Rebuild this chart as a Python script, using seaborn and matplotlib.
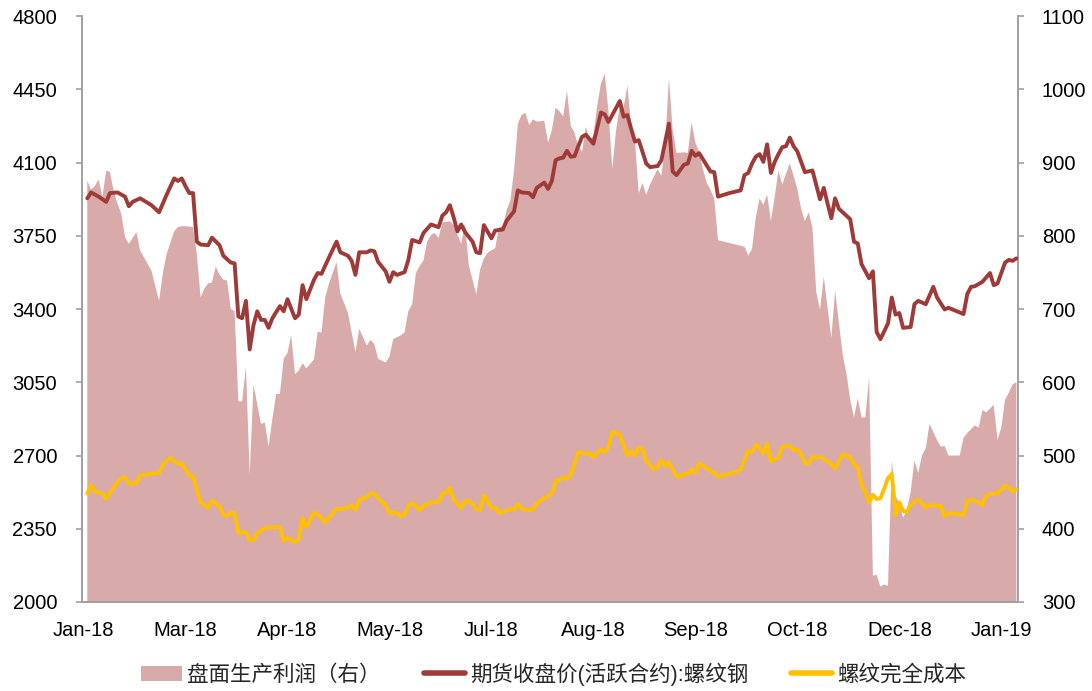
import matplotlib
matplotlib.use("Agg")
import matplotlib.pyplot as plt
import seaborn as sns
from matplotlib.patches import Patch
from matplotlib.lines import Line2D

# x is the trading-day index, 0 = first trading day shown on the axis
tick_days = [0, 27, 54, 81, 108, 135, 162, 189, 216, 243]
tick_labels = ["Jan-18", "Mar-18", "Apr-18", "May-18", "Jul-18",
               "Aug-18", "Sep-18", "Oct-18", "Dec-18", "Jan-19"]

# 期货收盘价(活跃合约):螺纹钢  (left axis)
steel_day = [1, 2, 4, 6, 7, 9, 11, 12, 13, 15, 18, 20, 22, 24, 25, 26, 27, 28, 29, 30,
             31, 33, 34, 36, 37, 38, 39, 40, 41, 42, 43, 44, 45, 46, 47, 48, 49, 50, 52, 53,
             54, 56, 57, 58, 59, 61, 62, 63, 65, 67, 68, 70, 71, 72, 73, 75, 76, 77, 78, 80,
             81, 82, 83, 85, 86, 87, 89, 90, 92, 94, 95, 96, 97, 98, 99, 100, 101, 103, 104, 105,
             106, 108, 109, 111, 112, 114, 115, 116, 118, 119, 120, 122, 123, 124, 125, 126, 127, 128, 129, 130,
             131, 132, 133, 135, 137, 138, 139, 142, 143, 144, 145, 146, 147, 149, 150, 152, 153, 155, 156, 157,
             159, 160, 161, 162, 163, 165, 166, 167, 168, 171, 174, 175, 176, 177, 178, 179, 180, 181, 182, 183,
             184, 185, 186, 187, 188, 189, 191, 193, 195, 196, 197, 198, 199, 200, 203, 204, 205, 206, 208, 209,
             210, 211, 213, 214, 215, 216, 217, 219, 220, 221, 223, 225, 226, 228, 229, 233, 234, 235, 236, 238,
             240, 241, 242, 244, 245, 246, 247]
steel_price = [3929, 3957, 3937, 3912, 3954, 3957, 3937, 3891, 3912, 3929, 3896, 3862, 3946, 4024, 4012, 4024, 3987, 3954, 3954, 3722,
               3708, 3705, 3741, 3705, 3655, 3638, 3622, 3618, 3364, 3356, 3439, 3207, 3323, 3389, 3348, 3348, 3310, 3356, 3414, 3389,
               3447, 3356, 3373, 3514, 3447, 3539, 3572, 3568, 3647, 3722, 3671, 3655, 3630, 3563, 3671, 3671, 3680, 3676, 3625, 3580,
               3530, 3576, 3563, 3576, 3635, 3730, 3718, 3763, 3804, 3791, 3846, 3862, 3896, 3838, 3771, 3804, 3768, 3722, 3671, 3667,
               3801, 3738, 3775, 3780, 3821, 3867, 3967, 3957, 3954, 3934, 3979, 4004, 3974, 4012, 4111, 4120, 4123, 4156, 4128, 4130,
               4178, 4223, 4233, 4190, 4339, 4330, 4294, 4394, 4319, 4327, 4261, 4200, 4207, 4095, 4078, 4083, 4111, 4286, 4057, 4040,
               4090, 4095, 4156, 4132, 4145, 4087, 4057, 4054, 3937, 3954, 3967, 4040, 4050, 4095, 4128, 4140, 4103, 4187, 4050, 4103,
               4140, 4173, 4178, 4219, 4178, 4153, 4054, 4062, 3924, 3979, 3904, 3834, 3929, 3879, 3829, 3722, 3713, 3614, 3547, 3580,
               3290, 3256, 3331, 3455, 3373, 3381, 3310, 3314, 3423, 3439, 3423, 3506, 3455, 3398, 3406, 3376, 3472, 3506, 3509, 3530,
               3572, 3514, 3522, 3622, 3635, 3630, 3642]

# 螺纹完全成本  (left axis)
cost_day = [1, 2, 3, 5, 6, 8, 10, 11, 12, 14, 15, 20, 21, 23, 25, 26, 28, 29, 31, 33,
            34, 36, 37, 38, 39, 40, 41, 43, 44, 45, 46, 48, 49, 52, 53, 54, 56, 57, 58, 59,
            61, 62, 64, 67, 69, 71, 72, 73, 75, 76, 77, 78, 80, 81, 83, 84, 85, 86, 87, 88,
            89, 90, 92, 94, 95, 96, 97, 98, 100, 101, 103, 104, 105, 106, 108, 109, 110, 113, 114, 115,
            116, 118, 119, 120, 122, 124, 125, 126, 127, 128, 129, 130, 131, 133, 134, 135, 136, 137, 138, 139,
            140, 141, 142, 143, 144, 145, 146, 147, 148, 149, 150, 151, 152, 153, 154, 155, 157, 158, 159, 160,
            161, 162, 163, 165, 167, 168, 171, 174, 176, 177, 178, 179, 180, 181, 182, 183, 184, 185, 187, 188,
            189, 190, 191, 192, 193, 195, 196, 198, 199, 201, 203, 204, 205, 206, 207, 208, 209, 210, 211, 212,
            213, 214, 215, 216, 217, 218, 219, 221, 223, 224, 226, 227, 228, 229, 231, 233, 234, 235, 236, 237,
            238, 239, 241, 242, 244, 245, 246, 247]
cost_value = [2518, 2559, 2529, 2518, 2492, 2550, 2592, 2596, 2567, 2567, 2605, 2617, 2655, 2689, 2659, 2662, 2605, 2600, 2476, 2451,
              2484, 2459, 2418, 2410, 2426, 2426, 2330, 2335, 2296, 2296, 2330, 2351, 2356, 2359, 2293, 2306, 2285, 2302, 2401, 2359,
              2426, 2418, 2380, 2446, 2443, 2463, 2439, 2489, 2501, 2518, 2518, 2496, 2463, 2426, 2426, 2410, 2418, 2459, 2472, 2459,
              2439, 2459, 2476, 2476, 2518, 2523, 2546, 2489, 2451, 2484, 2472, 2443, 2439, 2509, 2451, 2451, 2426, 2443, 2443, 2467,
              2446, 2439, 2443, 2472, 2496, 2518, 2575, 2584, 2596, 2589, 2609, 2659, 2717, 2708, 2712, 2692, 2712, 2728, 2717, 2742,
              2811, 2808, 2800, 2748, 2700, 2722, 2700, 2738, 2728, 2672, 2655, 2633, 2645, 2679, 2650, 2667, 2600, 2600, 2612, 2612,
              2633, 2617, 2662, 2638, 2617, 2600, 2612, 2633, 2722, 2717, 2750, 2738, 2708, 2758, 2672, 2684, 2689, 2742, 2745, 2725,
              2728, 2708, 2662, 2662, 2692, 2692, 2684, 2659, 2638, 2705, 2692, 2655, 2645, 2559, 2526, 2476, 2512, 2492, 2496, 2542,
              2592, 2612, 2413, 2476, 2435, 2429, 2467, 2489, 2451, 2463, 2459, 2459, 2410, 2423, 2423, 2413, 2484, 2489, 2484, 2476,
              2463, 2509, 2518, 2518, 2556, 2546, 2529, 2539]

# 盘面生产利润（右）  (right axis)
profit_day = [1, 2, 3, 4, 5, 6, 7, 8, 9, 10, 11, 12, 14, 15, 18, 20, 21, 22, 24, 25,
              26, 27, 29, 30, 31, 32, 33, 34, 35, 36, 37, 38, 39, 40, 41, 42, 43, 44, 45, 47,
              48, 49, 50, 51, 52, 53, 54, 55, 56, 57, 58, 59, 61, 62, 63, 64, 65, 67, 68, 70,
              72, 73, 75, 76, 77, 78, 80, 81, 82, 84, 85, 86, 87, 88, 89, 90, 91, 92, 93, 94,
              95, 97, 98, 100, 101, 102, 104, 105, 106, 107, 108, 109, 110, 111, 112, 113, 114, 115, 116, 117,
              118, 119, 120, 122, 123, 124, 125, 126, 127, 128, 129, 130, 131, 132, 133, 134, 135, 136, 137, 138,
              139, 140, 141, 142, 143, 144, 145, 146, 147, 148, 149, 150, 152, 153, 154, 155, 156, 157, 159, 160,
              161, 162, 163, 164, 165, 166, 167, 168, 175, 176, 177, 178, 179, 180, 181, 182, 183, 184, 185, 187,
              188, 189, 190, 191, 192, 193, 194, 195, 196, 197, 198, 199, 201, 202, 203, 204, 205, 206, 207, 208,
              209, 210, 211, 212, 213, 214, 215, 216, 217, 218, 219, 220, 221, 222, 223, 224, 226, 227, 228, 229,
              232, 233, 234, 236, 237, 238, 239, 241, 242, 243, 244, 245, 246, 247]
profit = [875, 863, 868, 877, 853, 889, 887, 861, 844, 830, 798, 789, 805, 780, 752, 711, 749, 775, 806, 812,
          813, 813, 812, 775, 716, 728, 735, 736, 758, 747, 740, 739, 700, 697, 574, 574, 621, 474, 597, 543,
          545, 512, 550, 584, 584, 632, 640, 664, 611, 616, 626, 619, 631, 669, 668, 716, 735, 764, 721, 695,
          641, 673, 650, 658, 652, 632, 627, 635, 659, 664, 668, 697, 706, 749, 759, 766, 792, 801, 804, 797,
          818, 820, 815, 789, 818, 760, 720, 754, 769, 777, 780, 783, 812, 811, 835, 848, 889, 953, 965, 968,
          951, 959, 956, 957, 927, 944, 975, 970, 963, 998, 950, 941, 922, 915, 949, 930, 937, 977, 1008, 1021,
          970, 891, 944, 977, 975, 1005, 950, 930, 858, 872, 856, 870, 891, 882, 922, 1015, 944, 913, 914, 913,
          955, 927, 915, 891, 872, 863, 851, 794, 785, 773, 782, 825, 851, 842, 856, 820, 853, 889, 870, 899,
          882, 864, 837, 820, 832, 811, 723, 699, 744, 702, 661, 725, 638, 612, 576, 552, 578, 552, 552, 607,
          336, 337, 321, 324, 322, 493, 445, 435, 415, 426, 450, 493, 476, 500, 510, 543, 521, 512, 513, 500,
          500, 524, 531, 541, 538, 562, 559, 569, 521, 538, 576, 586, 597, 600]

AREA = "#D9AAAA"
RED = "#9E3B38"
YELLOW = "#FFC000"
GREY = "#A0A0A0"

sns.set_style("white")
plt.rcParams["font.family"] = ["Liberation Sans", "Noto Sans CJK SC"]

fig = plt.figure(figsize=(10.92, 6.91), dpi=100)
ax = fig.add_axes([0.0751, 0.1288, 0.8574, 0.848])
ax_r = ax.twinx()

ax_r.fill_between(profit_day, profit, 0, color=AREA, lw=0)
sns.lineplot(x=steel_day, y=steel_price, ax=ax, color=RED, lw=2.8)
sns.lineplot(x=cost_day, y=cost_value, ax=ax, color=YELLOW, lw=2.8)

# lines above the area
ax.set_zorder(ax_r.get_zorder() + 1)
ax.patch.set_visible(False)

ax.set_xlim(-0.4, 247.5)
ax.set_ylim(2000, 4800)
ax.set_yticks(range(2000, 4801, 350))
ax_r.set_ylim(300, 1100)
ax_r.set_yticks(range(300, 1101, 100))
ax.set_xticks(tick_days)
ax.set_xticklabels(tick_labels)
ax.set_xlabel("")
ax.set_ylabel("")

for a in (ax, ax_r):
    for s in a.spines.values():
        s.set_color(GREY)
        s.set_linewidth(1.4)
    a.spines["top"].set_visible(False)
    a.tick_params(colors=GREY, labelcolor="black", labelsize=14.5, length=4, width=1.2, direction="out")
ax.spines["right"].set_visible(False)
ax_r.spines["left"].set_visible(False)
ax_r.spines["bottom"].set_visible(False)
ax.tick_params(axis="x", pad=10)
ax.tick_params(axis="y", pad=14)
ax_r.tick_params(axis="y", pad=13)

handles = [Patch(facecolor=AREA, edgecolor="none"),
           Line2D([], [], color=RED, lw=4),
           Line2D([], [], color=YELLOW, lw=4)]
labels = ["盘面生产利润（右）", "期货收盘价(活跃合约):螺纹钢", "螺纹完全成本"]
fig.legend(handles, labels, loc="center", bbox_to_anchor=(0.507, 0.024), ncol=3,
           frameon=False, fontsize=15.5, handlelength=1.9, handleheight=0.7,
           handletextpad=0.25, columnspacing=2.0)

fig.savefig("out.png", dpi=100)
